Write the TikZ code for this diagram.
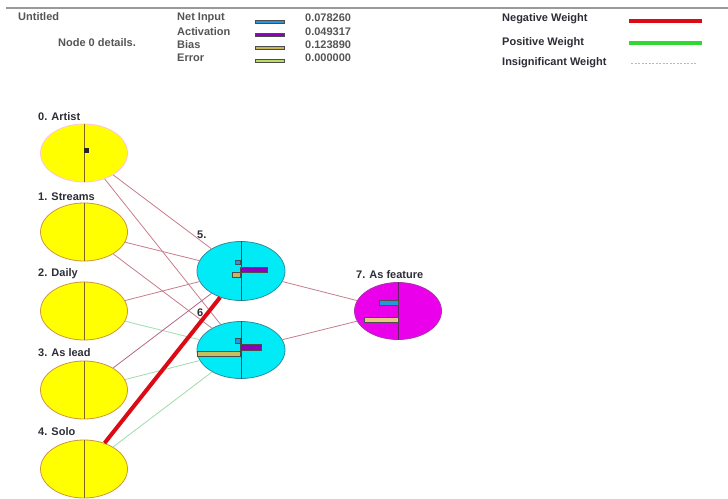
\documentclass[tikz,border=0pt]{standalone}
\usepackage{fontspec}
\setmainfont{Liberation Sans}
\usetikzlibrary{shapes.geometric}
\definecolor{yfill}{RGB}{255,255,0}
\definecolor{ybord}{RGB}{205,150,60}
\definecolor{cfill}{RGB}{0,235,245}
\definecolor{cbord}{RGB}{50,140,160}
\definecolor{mfill}{RGB}{235,0,235}
\definecolor{mbord}{RGB}{170,50,170}
\definecolor{vline}{RGB}{130,100,20}
\definecolor{wthin}{RGB}{200,125,140}
\definecolor{wgreen}{RGB}{160,220,170}
\definecolor{wred}{RGB}{220,10,20}
\definecolor{lgreen}{RGB}{50,215,50}
\definecolor{netc}{RGB}{40,150,220}
\definecolor{actc}{RGB}{140,0,190}
\definecolor{biasc}{RGB}{200,180,90}
\definecolor{errc}{RGB}{190,220,100}
\definecolor{txt}{RGB}{45,45,55}
\definecolor{txtg}{RGB}{85,85,85}
\begin{document}
\begin{tikzpicture}[x=1pt,y=-1pt,
  font=\fontsize{11}{13}\selectfont\bfseries,
  neuron/.style={ellipse,inner sep=0pt,minimum width=87pt,minimum height=58pt,line width=0.8pt},
  yel/.style={neuron,fill=yfill,draw=ybord},
  cya/.style={neuron,fill=cfill,draw=cbord},
  mag/.style={neuron,fill=mfill,draw=mbord},
  lbl/.style={anchor=west,inner sep=0pt,text=txt},
  lgd/.style={anchor=west,inner sep=0pt,text=txtg},
  wthinl/.style={draw=wthin,line width=0.8pt},
  wgr/.style={draw=wgreen,line width=0.8pt},
  wthick/.style={draw=wred,line width=4pt},
  bar/.style={draw=black!70,line width=0.4pt}
]
\useasboundingbox (0,0) rectangle (728,498);
\fill[white] (0,0) rectangle (728,498);
% top rule
\draw[gray!80,line width=1.5pt] (6,8) -- (728,8);

% legend left
\node[lgd] (untitled) at (18,17) {Untitled};
\node[lgd] (details) at (58,43) {Node 0 details.};
\node[lgd] (tnet) at (177,17.5) {Net Input};
\node[lgd] (tact) at (177,32) {Activation};
\node[lgd] (tbias) at (177,45) {Bias};
\node[lgd] (terr) at (177,58) {Error};
\node[lgd] (vnet) at (305,17.5) {0.078260};
\node[lgd] (vact) at (305,32) {0.049317};
\node[lgd] (vbias) at (305,45) {0.123890};
\node[lgd] (verr) at (305,58) {0.000000};
\draw[bar,fill=netc] (255,20.5) rectangle (284,23.5);
\draw[bar,fill=actc] (255,33) rectangle (284,36);
\draw[bar,fill=biasc] (255,46.5) rectangle (284,49.5);
\draw[bar,fill=errc] (255,59) rectangle (284,62);

% legend right
\node[lbl] (tneg) at (502,19) {Negative Weight};
\node[lbl] (tpos) at (502,43) {Positive Weight};
\node[lbl] (tins) at (502,63) {Insignificant Weight};
\coordinate (ln1) at (629,21); \coordinate (ln2) at (702,21);
\coordinate (lp1) at (629,43); \coordinate (lp2) at (702,43);
\coordinate (li1) at (631,63); \coordinate (li2) at (697,63);
\draw[wred,line width=4pt] (ln1) -- (ln2);
\draw[lgreen,line width=3.5pt] (lp1) -- (lp2);
\draw[cbord!50,line width=0.6pt,dash pattern=on 2pt off 1.5pt] (li1) -- (li2);

% neurons
\node[yel,draw=pink!80!magenta!60] (n0) at (84,153) {};
\node[yel] (n1) at (84,232) {};
\node[yel] (n2) at (84,311) {};
\node[yel] (n3) at (84,390) {};
\node[yel] (n4) at (84,469) {};
\node[cya,minimum width=88pt,minimum height=59pt] (n5) at (241,271) {};
\node[cya,minimum width=88pt,minimum height=57pt] (n6) at (241,350) {};
\node[mag,minimum width=87pt,minimum height=57pt] (n7) at (398,311) {};

% connections
\draw[wthinl] (n0) -- (n5);
\draw[wthinl] (n0) -- (n6);
\draw[wthinl] (n1) -- (n5);
\draw[wthinl] (n1) -- (n6);
\draw[wthinl] (n2) -- (n5);
\draw[wgr] (n2) -- (n6);
\draw[wthinl,draw=wthin!80!violet] (n3) -- (n5);
\draw[wgr] (n3) -- (n6);
\draw[wgr] (n4) -- (n6);
\draw[wthinl] (n5) -- (n7);
\draw[wthinl] (n6) -- (n7);

% vertical lines
\foreach \n/\c in {n0/vline,n1/vline,n2/vline,n3/vline,n4/vline,n5/cbord!60!black,n6/cbord!60!black,n7/mbord!60!black}
  \draw[\c,line width=0.8pt] (\n.north) -- (\n.south);

% labels
\node[lbl] (l0) at (38,117) {0. Artist};
\node[lbl] (l1) at (38,197) {1. Streams};
\node[lbl] (l2) at (38,274) {2. Daily};
\node[lbl] (l3) at (38,353) {3. As lead};
\node[lbl] (l4) at (38,432) {4. Solo};
\node[lbl] (l5) at (197,235) {5.};
\node[lbl] (l6) at (197,313) {6.};
\node[lbl] (l7) at (356,275) {7. As feature};
\draw[wthick] (n4) -- (n5);

% node 0 marker
\fill[black!85] (84,148) rectangle (89,153);

% bars node 5
\draw[bar,fill=netc] (235,260) rectangle (240,264);
\draw[bar,fill=actc] (240,267) rectangle (267,272);
\draw[bar,fill=biasc] (232,272) rectangle (240,277);
% bars node 6
\draw[bar,fill=netc] (235,338) rectangle (240,343);
\draw[bar,fill=actc] (240,344.5) rectangle (261,350);
\draw[bar,fill=biasc!70!errc] (197,351) rectangle (240,356);
% bars node 7
\draw[bar,fill=netc] (379,300) rectangle (398,305);
\draw[bar,fill=biasc!60!orange!60] (364,317) rectangle (398,322);
\end{tikzpicture}
\end{document}
